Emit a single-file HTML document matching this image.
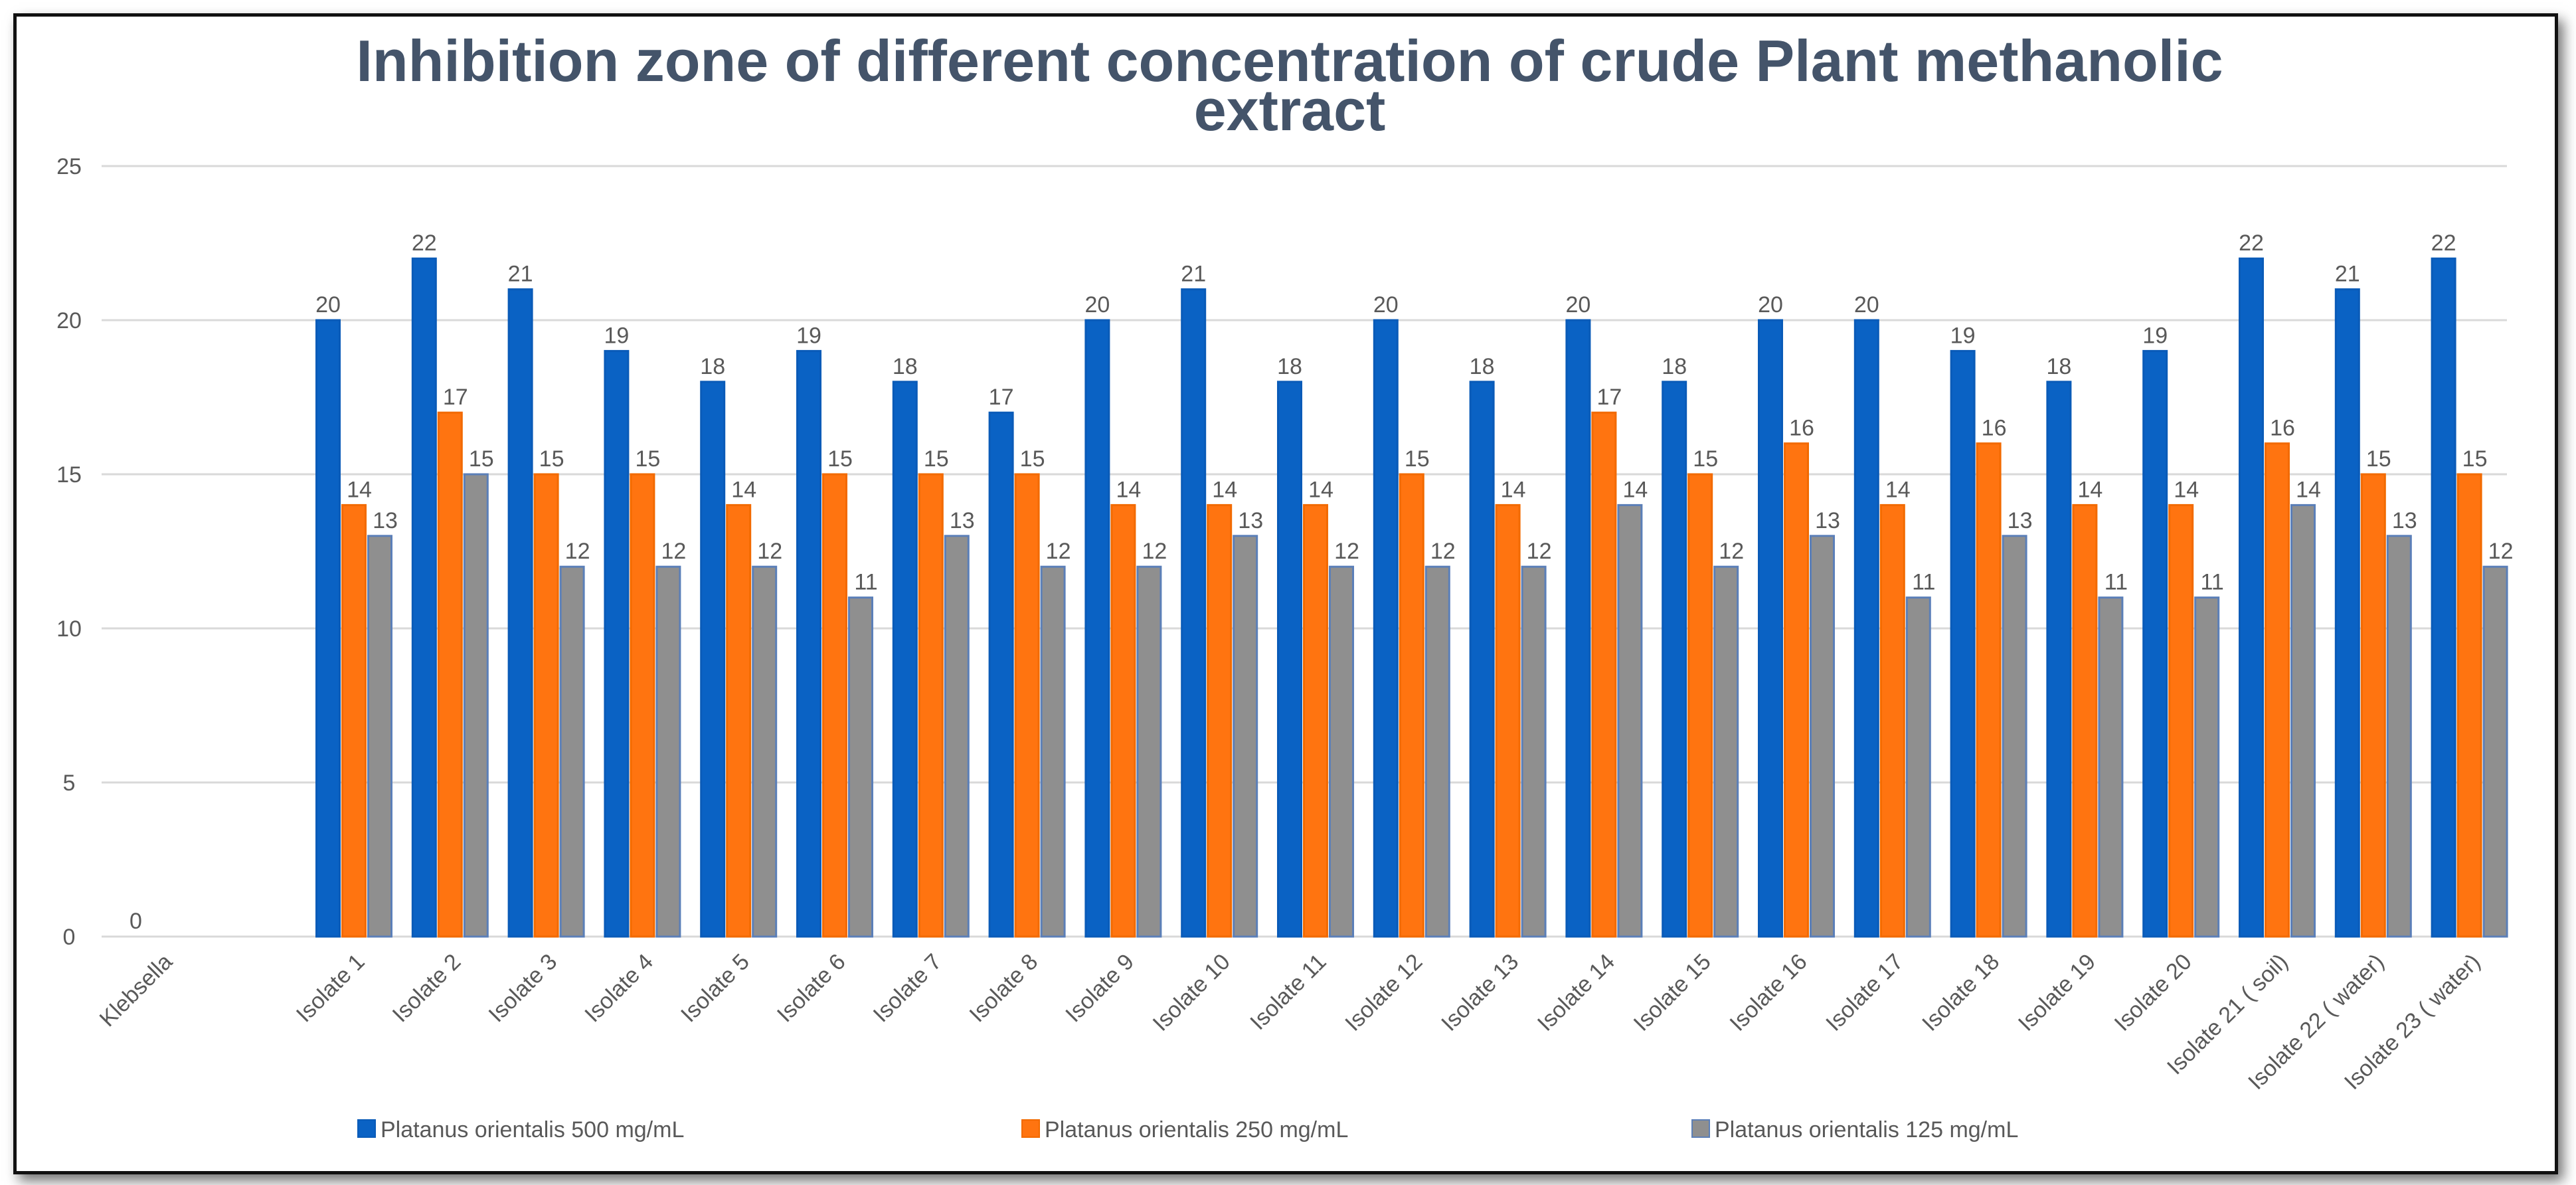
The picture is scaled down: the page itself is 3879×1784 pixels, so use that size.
<!DOCTYPE html>
<html><head><meta charset="utf-8">
<style>
html,body{margin:0;padding:0;background:#fff;}
body{width:3879px;height:1784px;overflow:hidden;font-family:"Liberation Sans",sans-serif;}
#frame{position:absolute;left:20px;top:20px;width:3822px;height:1738px;border:5px solid #111;box-shadow:8px 10px 18px rgba(0,0,0,0.55);background:#fff;}
svg{position:absolute;left:0;top:0;}
</style></head>
<body>
<div id="frame"></div>
<svg id="chart" width="3879" height="1784">
<text x="1942" y="122" text-anchor="middle" font-size="88" font-weight="bold" fill="#44546a">Inhibition zone of different concentration of crude Plant methanolic</text>
<text x="1942" y="196" text-anchor="middle" font-size="88" font-weight="bold" fill="#44546a">extract</text>
<g id="grid"></g><g id="bars"></g><g id="labels"></g><g id="xlabels"></g><g id="legend"></g>
</svg>
<script>
const categories=["Klebsella","","Isolate 1","Isolate 2","Isolate 3","Isolate 4","Isolate 5","Isolate 6","Isolate 7","Isolate 8","Isolate 9","Isolate 10","Isolate 11","Isolate 12","Isolate 13","Isolate 14","Isolate 15","Isolate 16","Isolate 17","Isolate 18","Isolate 19","Isolate 20","Isolate 21 ( soil)","Isolate 22 ( water)","Isolate 23 ( water)"];
const s500=[0,null,20,22,21,19,18,19,18,17,20,21,18,20,18,20,18,20,20,19,18,19,22,21,22];
const s250=[null,null,14,17,15,15,14,15,15,15,14,14,14,15,14,17,15,16,14,16,14,14,16,15,15];
const s125=[null,null,13,15,12,12,12,11,13,12,12,13,12,12,12,14,12,13,11,13,11,11,14,13,12];
const yTicks=[0,5,10,15,20,25];
const seriesNames=["Platanus orientalis 500 mg/mL","Platanus orientalis 250 mg/mL","Platanus orientalis 125 mg/mL"];
const NS="http://www.w3.org/2000/svg";
const X0=171,X1=3791,G0=153,G1=3775,Y0=1410,Y25=250,YMAX=25;
const step=(X1-X0)/categories.length;
function xc(i){return X0+step*(i+0.5);}
function y(v){return Y0-(Y0-Y25)*v/YMAX;}
function mk(tag,attrs,parent){const e=document.createElementNS(NS,tag);for(const k in attrs)e.setAttribute(k,attrs[k]);parent.appendChild(e);return e;}
const grid=document.getElementById('grid');
yTicks.forEach(t=>{
  const l=mk('line',{x1:G0,x2:G1,y1:y(t),y2:y(t),stroke:'#d9d9d9','stroke-width':3},grid);
  
  
  const tx=mk('text',{x:104,y:y(t)+12,'text-anchor':'middle','font-size':34,fill:'#595959'},grid);
  tx.textContent=t;
  
  
});
const series=[s500,s250,s125];
const colors=['#0a62c4','#ff7410','#8f8f8f'];
const strokes=['#0a5bb8','#f26a00','#5b7fb8'];
const offs=[-39,0,39];
const bw=35;
const bars=document.getElementById('bars'),labs=document.getElementById('labels');
series.forEach((s,si)=>{
  s.forEach((v,i)=>{
    if(v===null)return;
    const cx=xc(i)+offs[si];
    if(v>0){
      const r=mk('rect',{x:cx-bw/2,y:y(v),width:bw,height:Y0-y(v),fill:colors[si],stroke:strokes[si],'stroke-width':3},bars);
      
      
    }
    const t=mk('text',{x:cx+(si===0?0:8),y:y(v)-12,'text-anchor':'middle','font-size':34,fill:'#595959'},labs);
    t.textContent=v;
    
    
  });
});
const xl=document.getElementById('xlabels');
categories.forEach((c,i)=>{
  if(!c)return;
  const px=xc(i)+18,py=1450;
  const t=mk('text',{x:px,y:py,'text-anchor':'end','font-size':34,fill:'#595959',transform:'rotate(-45 '+px+' '+py+')'},xl);
  t.textContent=c;
  
  
});
const lg=document.getElementById('legend');
const lx=[539,1539,2548];
seriesNames.forEach((n,i)=>{
  const r=mk('rect',{x:lx[i],y:1686,width:26,height:26,fill:colors[i],stroke:strokes[i],'stroke-width':2},lg);
  
  
  const t=mk('text',{x:lx[i]+34,y:1712,'font-size':34,fill:'#595959'},lg);
  t.textContent=n;
  
  
});
</script>
</body></html>
